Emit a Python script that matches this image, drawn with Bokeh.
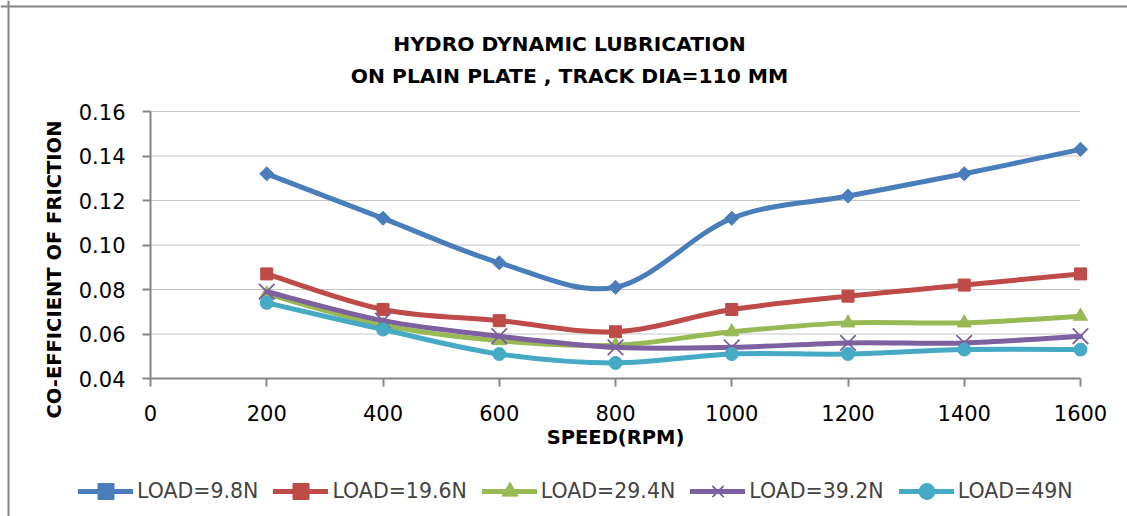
import math
from bokeh.plotting import figure
from bokeh.models import (Range1d, FixedTicker, NumeralTickFormatter, Label, Legend,
                          LegendItem, Span, ColumnDataSource)
from bokeh.embed import file_html
from bokeh.resources import INLINE

# ---------------- data ----------------
speed_rpm = [200, 400, 600, 800, 1000, 1200, 1400, 1600]
load_9_8n = [0.132, 0.112, 0.092, 0.081, 0.112, 0.122, 0.132, 0.143]
load_19_6n = [0.087, 0.071, 0.066, 0.061, 0.071, 0.077, 0.082, 0.087]
load_29_4n = [0.078, 0.064, 0.057, 0.055, 0.061, 0.065, 0.065, 0.068]
load_39_2n = [0.079, 0.066, 0.059, 0.054, 0.054, 0.056, 0.056, 0.059]
load_49n = [0.074, 0.062, 0.051, 0.047, 0.051, 0.051, 0.053, 0.053]
series_labels = ["LOAD=9.8N", "LOAD=19.6N", "LOAD=29.4N", "LOAD=39.2N", "LOAD=49N"]
x_ticks = [0, 200, 400, 600, 800, 1000, 1200, 1400, 1600]
y_ticks = [0.04, 0.06, 0.08, 0.10, 0.12, 0.14, 0.16]
title_lines = ["HYDRO DYNAMIC LUBRICATION", "ON PLAIN PLATE , TRACK DIA=110 MM"]
x_title = "SPEED(RPM)"
y_title = "CO-EFFICIENT OF FRICTION"

# ---------------- style / layout ----------------
colors = ["#4A7EBB", "#BE4B48", "#98B954", "#7D60A0", "#46AAC5"]
FONT = "DejaVu Sans"
W, H = 1127, 516
AX_L, AX_R = 150, 1080      # window px of first / last x tick
AX_T, AX_B = 111, 378       # window px of top / bottom y tick
GREY = "#868686"

# the frame covers the whole canvas; the axes sit at fixed locations inside it
xs_per_px = (x_ticks[-1] - x_ticks[0]) / (AX_R - AX_L)
ys_per_px = (y_ticks[-1] - y_ticks[0]) / (AX_B - AX_T)
x_range = Range1d(x_ticks[0] - AX_L * xs_per_px, x_ticks[-1] + (W - AX_R) * xs_per_px)
y_range = Range1d(y_ticks[0] - (H - AX_B) * ys_per_px, y_ticks[-1] + AX_T * ys_per_px)

p = figure(width=W, height=H, output_backend="svg", toolbar_location=None,
           x_range=x_range, y_range=y_range, min_border=0, title=None)
p.outline_line_color = None
p.background_fill_color = "white"
p.border_fill_color = "white"
p.xgrid.visible = False
p.ygrid.visible = False

for ax in (p.xaxis[0], p.yaxis[0]):
    ax.axis_line_color = GREY
    ax.axis_line_width = 2
    ax.major_tick_line_color = GREY
    ax.major_tick_line_width = 2
    ax.major_tick_out = 8
    ax.major_tick_in = 0
    ax.minor_tick_line_color = None
    ax.major_label_text_font = FONT
    ax.major_label_text_font_size = "21px"
    ax.major_label_text_color = "black"

p.xaxis.ticker = FixedTicker(ticks=x_ticks)
p.xaxis.bounds = (x_ticks[0], x_ticks[-1])
p.xaxis.fixed_location = y_ticks[0]
p.xaxis.major_label_standoff = 18
p.yaxis.ticker = FixedTicker(ticks=y_ticks)
p.yaxis.formatter = NumeralTickFormatter(format="0.00")
p.yaxis.bounds = (y_ticks[0], y_ticks[-1])
p.yaxis.fixed_location = x_ticks[0]
p.yaxis.major_label_standoff = 17

# dotted gridlines
grid_src = ColumnDataSource(dict(x0=[x_ticks[0]] * (len(y_ticks) - 1),
                                 x1=[x_ticks[-1]] * (len(y_ticks) - 1),
                                 y=y_ticks[1:]))
p.segment(x0="x0", y0="y", x1="x1", y1="y", source=grid_src,
          line_color="#8c8c8c", line_width=1, line_dash="1 1")


def smooth(xs, ys):
    n = len(xs)
    d = dict(x0=[], y0=[], x1=[], y1=[], cx0=[], cy0=[], cx1=[], cy1=[])
    for i in range(n - 1):
        ip = max(i - 1, 0)
        i2 = min(i + 2, n - 1)
        d["x0"].append(xs[i]); d["y0"].append(ys[i])
        d["x1"].append(xs[i + 1]); d["y1"].append(ys[i + 1])
        d["cx0"].append(xs[i] + (xs[i + 1] - xs[ip]) / 6)
        d["cy0"].append(ys[i] + (ys[i + 1] - ys[ip]) / 6)
        d["cx1"].append(xs[i + 1] - (xs[i2] - xs[i]) / 6)
        d["cy1"].append(ys[i + 1] - (ys[i2] - ys[i]) / 6)
    return d


series = [load_9_8n, load_19_6n, load_29_4n, load_39_2n, load_49n]
markers = [
    dict(marker="square", size=10, angle=math.pi / 4),
    dict(marker="square", size=12),
    dict(marker="triangle", size=14),
    dict(marker="x", size=22, line_width=1.8),
    dict(marker="circle", size=13),
]

items = []
for ys, col, mk, lab in zip(series, colors, markers, series_labels):
    src = ColumnDataSource(smooth(speed_rpm, ys))
    r_line = p.bezier(x0="x0", y0="y0", x1="x1", y1="y1", cx0="cx0", cy0="cy0",
                      cx1="cx1", cy1="cy1", source=src, line_color=col,
                      line_width=5, line_cap="round")
    kw = dict(mk)
    lw = kw.pop("line_width", 1)
    r_pts = p.scatter(speed_rpm, ys, color=col, line_width=lw, **kw)
    items.append(LegendItem(label=lab, renderers=[r_line, r_pts]))

legend = Legend(items=items, orientation="horizontal", location=(78, H - 511),
                border_line_color=None, background_fill_alpha=0, padding=0, margin=0,
                glyph_width=55, glyph_height=40, label_standoff=4, spacing=15,
                label_text_font=FONT, label_text_font_size="20.5px")
p.add_layout(legend)


def lab(text, px, py, size, angle=0.0):
    p.add_layout(Label(text=text, text_font=FONT, text_font_size=size,
                       text_font_style="bold", text_align="center",
                       text_baseline="middle", text_color="black", angle=angle,
                       x=px, y=H - py, x_units="screen", y_units="screen"))


lab(title_lines[0], 569, 43, "20.3px")
lab(title_lines[1], 569, 75, "20.3px")
lab(x_title, (AX_L + AX_R) / 2, 437, "19.5px")
lab(y_title, 54, 269, "19.5px", angle=math.pi / 2)

# outer chart border (left and top edges visible)
p.add_layout(Span(location=8, location_units="screen", dimension="height",
                  line_color=GREY, line_width=2))
p.add_layout(Span(location=H - 6, location_units="screen", dimension="width",
                  line_color=GREY, line_width=2))

open("out.html", "w").write(file_html(p, INLINE))
